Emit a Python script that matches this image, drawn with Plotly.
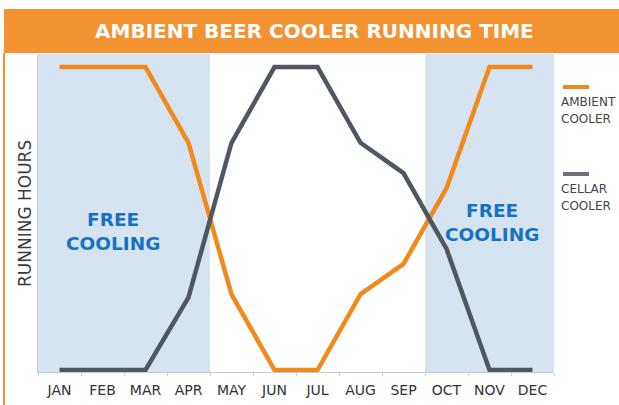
import plotly.graph_objects as go

months = ["JAN", "FEB", "MAR", "APR", "MAY", "JUN", "JUL", "AUG", "SEP", "OCT", "NOV", "DEC"]
ambient = [100, 100, 100, 75, 25, 0, 0, 25, 35, 60, 100, 100]
cellar = [0, 0, 0, 24, 75, 100, 100, 75, 65, 40, 0, 0]
free_cooling_spans = [(-0.5, 3.5), (8.5, 11.5)]
free_label_pos = [(1.25, 45.8), (10.05, 48.8)]

ORANGE = "#F39231"
LINE_OR = "#F08A1C"
GRAY = "#4F5761"
SHADE = "#D6E4F2"
BLUE = "#1672C2"

W, H = 619, 405
L, R, T, B = 38, 65, 54, 33
pw, ph = W - L - R, H - T - B


def px(x):
    return (x - L) / pw


def py(y):
    return (H - B - y) / ph


fig = go.Figure()
fig.add_trace(go.Scatter(x=months, y=ambient, mode="lines", name="AMBIENT COOLER",
                         line=dict(color=LINE_OR, width=4.5)))
fig.add_trace(go.Scatter(x=months, y=cellar, mode="lines", name="CELLAR COOLER",
                         line=dict(color=GRAY, width=4.5)))

shapes = []
for x0, x1 in free_cooling_spans:
    shapes.append(dict(type="rect", xref="x", yref="paper", x0=x0, x1=x1, y0=0, y1=1,
                       fillcolor=SHADE, line=dict(width=0), layer="below"))
# title bar
shapes.append(dict(type="rect", xref="paper", yref="paper", x0=px(4), x1=px(625),
                   y0=py(53), y1=py(9), fillcolor=ORANGE, line=dict(width=0)))
# left border
shapes.append(dict(type="line", xref="paper", yref="paper", x0=px(4), x1=px(4),
                   y0=py(53), y1=py(410), line=dict(color=ORANGE, width=2)))
# legend swatches
shapes.append(dict(type="line", xref="paper", yref="paper", x0=px(563), x1=px(589),
                   y0=py(87), y1=py(87), line=dict(color=LINE_OR, width=4)))
shapes.append(dict(type="line", xref="paper", yref="paper", x0=px(563), x1=px(589),
                   y0=py(174), y1=py(174), line=dict(color="#6B7079", width=4)))


def ann(text, x, y, size, color, xanchor="center", angle=0):
    return dict(text=text, xref="paper", yref="paper", x=px(x), y=py(y), xanchor=xanchor,
                yanchor="middle", textangle=angle, showarrow=False,
                font=dict(family="DejaVu Sans", size=size, color=color))


annotations = [
    ann("<b>AMBIENT BEER COOLER RUNNING TIME</b>", 314, 31, 20, "white"),
    ann("RUNNING HOURS", 25, 214, 17, "#3A3A3A", angle=-90),
    ann("AMBIENT", 559, 102, 12, "#444444", xanchor="left"),
    ann("COOLER", 559, 119, 12, "#444444", xanchor="left"),
    ann("CELLAR", 559, 189, 12, "#444444", xanchor="left"),
    ann("COOLER", 559, 206, 12, "#444444", xanchor="left"),
]
for xc, yc in free_label_pos:
    annotations.append(dict(text="<b>FREE<br>COOLING</b>", xref="x", yref="y", x=xc, y=yc,
                            showarrow=False, align="center", yanchor="middle",
                            font=dict(family="DejaVu Sans", size=18.5, color=BLUE)))

fig.update_layout(
    width=W, height=H, margin=dict(l=L, r=R, t=T, b=B, autoexpand=False),
    paper_bgcolor="white", plot_bgcolor="white", showlegend=False,
    shapes=shapes, annotations=annotations,
    xaxis=dict(type="category", categoryorder="array", categoryarray=months,
               range=[-0.5, 11.5], showgrid=False, showline=True, linecolor="#C8CCD0", linewidth=1,
               ticks="outside", ticklen=3, tickcolor="#D0D0D0", tickson="boundaries",
               ticklabelstandoff=5, automargin=False,
               tickfont=dict(family="DejaVu Sans", size=14, color="#333333"), zeroline=False),
    yaxis=dict(range=[-0.66, 104.3], showgrid=False, showticklabels=False, zeroline=False,
               showline=True, linecolor="#C8CCD0", linewidth=1, ticks="", automargin=False),
)
fig.write_html("out.html", config={"displayModeBar": False},
               post_script="document.body.style.margin='0';")
